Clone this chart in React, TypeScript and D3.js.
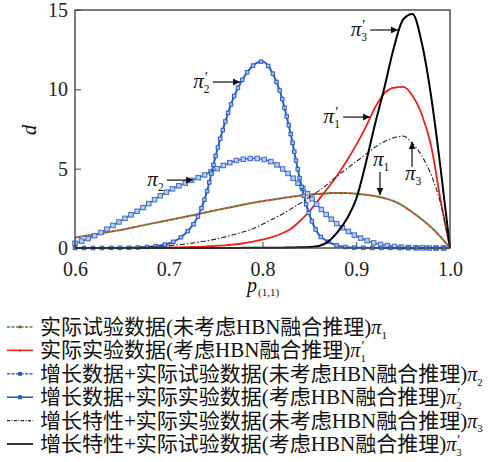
import { useEffect, useRef } from 'react';
import * as d3 from 'd3';

// p(1,1) grid shared by every series
const pValues = [
  0.6, 0.61, 0.62, 0.63, 0.64, 0.65, 0.66, 0.67, 0.68, 0.69,
  0.7, 0.71, 0.72, 0.73, 0.74, 0.75, 0.76, 0.77, 0.78, 0.79,
  0.8, 0.81, 0.82, 0.83, 0.84, 0.85, 0.86, 0.87, 0.88, 0.89,
  0.9, 0.91, 0.92, 0.93, 0.94, 0.95, 0.96, 0.97, 0.98, 0.99, 1.0,
];

// density values
const pi1 = [
  0.65, 0.75, 0.85, 0.95, 1.05, 1.15, 1.27, 1.4, 1.52, 1.64,
  1.76, 1.88, 2.0, 2.12, 2.25, 2.38, 2.5, 2.62, 2.74, 2.85,
  2.95, 3.04, 3.13, 3.22, 3.3, 3.36, 3.41, 3.45, 3.47, 3.46,
  3.42, 3.36, 3.27, 3.14, 2.95, 2.65, 2.25, 1.8, 1.3, 0.7, 0,
];
const pi1p = [
  0, 0, 0, 0, 0, 0.01, 0.01, 0.01, 0.02, 0.02,
  0.03, 0.04, 0.06, 0.07, 0.1, 0.13, 0.17, 0.22, 0.3, 0.4,
  0.52, 0.68, 0.9, 1.2, 1.7, 2.3, 3.05, 3.8, 4.6, 5.5,
  6.5, 7.6, 8.85, 9.75, 10.1, 10.15, 9.6, 8.4, 6.4, 3.0, 0,
];
const pi2 = [
  0.3, 0.5, 0.75, 1.05, 1.4, 1.75, 2.1, 2.45, 2.85, 3.25,
  3.6, 3.9, 4.15, 4.4, 4.65, 4.95, 5.25, 5.48, 5.6, 5.65,
  5.6, 5.42, 5.05, 4.55, 3.95, 3.3, 2.6, 2.0, 1.5, 1.1,
  0.75, 0.5, 0.3, 0.18, 0.1, 0.05, 0.02, 0.01, 0, 0, 0,
];
const pi2p = [
  0, 0, 0, 0, 0.01, 0.01, 0.02, 0.04, 0.08, 0.15,
  0.28, 0.55, 1.05, 1.85, 3.4, 5.8, 7.9, 9.6, 10.75, 11.5,
  11.75, 11.1, 9.6, 7.2, 4.3, 2.1, 0.85, 0.4, 0.15, 0.05,
  0.02, 0.01, 0, 0, 0, 0, 0, 0, 0, 0, 0,
];
const pi3 = [
  0, 0.005, 0.01, 0.015, 0.02, 0.03, 0.04, 0.05, 0.08, 0.11,
  0.15, 0.2, 0.27, 0.35, 0.45, 0.56, 0.7, 0.85, 1.02, 1.22,
  1.5, 1.8, 2.1, 2.45, 2.8, 3.2, 3.6, 4.05, 4.55, 5.0,
  5.45, 5.9, 6.35, 6.7, 6.95, 7.05, 6.6, 5.8, 4.6, 2.8, 0,
];
const pi3p = [
  0, 0, 0, 0, 0, 0, 0, 0, 0, 0,
  0, 0, 0, 0, 0, 0, 0, 0, 0.01, 0.01,
  0.01, 0.02, 0.02, 0.03, 0.04, 0.06, 0.12, 0.4, 1.0, 1.85,
  3.1, 5.3, 7.8, 10.1, 12.6, 14.4, 14.75, 12.9, 9.5, 5.0, 0,
];

const xTicks = [0.6, 0.7, 0.8, 0.9, 1.0];
const yTicks = [0, 5, 10, 15];

const legendLabels = [
  '实际试验数据(未考虑HBN融合推理)',
  '实际实验数据(考虑HBN融合推理)',
  '增长数据+实际试验数据(未考虑HBN融合推理)',
  '增长数据+实际实验数据(考虑HBN融合推理)',
  '增长特性+实际实验数据(未考虑HBN融合推理)',
  '增长特性+实际试验数据(考虑HBN融合推理)',
];
const piSubs = ['1', '1', '2', '2', '3', '3'];
const piPrimes = [false, true, false, true, false, true];

// arrow annotations, in data units (p, d)
const notes = [
  { sub: '2', prime: true, dir: 'right', from: [0.747, 10.46], to: [0.776, 10.46] },
  { sub: '2', prime: false, dir: 'right', from: [0.698, 4.28], to: [0.726, 4.28] },
  { sub: '3', prime: true, dir: 'right', from: [0.915, 13.74], to: [0.9445, 13.74] },
  { sub: '1', prime: true, dir: 'right', from: [0.886, 8.25], to: [0.9147, 8.25] },
  { sub: '1', prime: false, dir: 'down', from: [0.9253, 4.79], to: [0.9253, 3.34] },
  { sub: '3', prime: false, dir: 'up', from: [0.9595, 5.1], to: [0.9595, 6.68] },
];

const serif = "'Liberation Serif', serif";
const cjk = "'Noto Sans CJK SC', sans-serif";

const App = () => {
  const ref = useRef<SVGSVGElement>(null);

  useEffect(() => {
    const svg = d3.select(ref.current);
    svg.selectAll('*').remove();

    const x = d3.scaleLinear().domain([0.6, 1.0]).range([75, 450]);
    const y = d3.scaleLinear().domain([0, 15]).range([248, 10]);

    const line = (vals: number[]) =>
      d3
        .line<number>()
        .x((_, i) => x(pValues[i]))
        .y((d) => y(d))
        .curve(d3.curveMonotoneX)(vals);

    // π with prime over subscript
    const drawPi = (parent: any, px: number, py: number, sub: string, prime: boolean, size: number) => {
      const g = parent.append('g');
      const t = g
        .append('text')
        .attr('x', px)
        .attr('y', py)
        .attr('font-family', serif)
        .attr('font-style', 'italic')
        .attr('font-size', size)
        .attr('fill', '#111')
        .text('π');
      const w = (t.node() as SVGTextElement).getComputedTextLength();
      if (prime) {
        g.append('text')
          .attr('x', px + w + 1)
          .attr('y', py - size * 0.3)
          .attr('font-family', serif)
          .attr('font-size', size * 0.7)
          .attr('fill', '#111')
          .text('′');
      }
      g.append('text')
        .attr('x', px + w)
        .attr('y', py + size * 0.24)
        .attr('font-family', serif)
        .attr('font-size', size * 0.55)
        .attr('fill', '#111')
        .text(sub);
      return g;
    };

    svg
      .append('defs')
      .append('marker')
      .attr('id', 'arrowhead')
      .attr('viewBox', '0 0 10 10')
      .attr('refX', 10)
      .attr('refY', 5)
      .attr('markerWidth', 9)
      .attr('markerHeight', 7)
      .attr('markerUnits', 'userSpaceOnUse')
      .attr('orient', 'auto')
      .append('path')
      .attr('d', 'M0,0 L10,5 L0,10 z')
      .attr('fill', '#111');

    const plot = svg.append('g');

    // ticks point inward
    plot
      .append('g')
      .attr('transform', 'translate(0,248)')
      .call(
        d3
          .axisBottom(x)
          .tickValues(xTicks)
          .tickFormat(d3.format('.1f'))
          .tickSizeInner(-6)
          .tickSizeOuter(0)
          .tickPadding(14)
      )
      .call((g: any) => g.select('.domain').remove())
      .call((g: any) => g.selectAll('line').attr('stroke', '#444'))
      .call((g: any) =>
        g.selectAll('text').attr('font-family', serif).attr('font-size', 20).attr('fill', '#222')
      );

    plot
      .append('g')
      .attr('transform', 'translate(75,0)')
      .call(d3.axisLeft(y).tickValues(yTicks).tickSizeInner(-6).tickSizeOuter(0).tickPadding(7))
      .call((g: any) => g.select('.domain').remove())
      .call((g: any) => g.selectAll('line').attr('stroke', '#444'))
      .call((g: any) =>
        g.selectAll('text').attr('font-family', serif).attr('font-size', 20).attr('fill', '#222')
      );

    // π1: green dashes interleaved with red
    plot
      .append('path')
      .attr('d', line(pi1))
      .attr('fill', 'none')
      .attr('stroke', '#2f9a3c')
      .attr('stroke-width', 2)
      .attr('stroke-dasharray', '2.5,2.5');
    plot
      .append('path')
      .attr('d', line(pi1))
      .attr('fill', 'none')
      .attr('stroke', '#e02a20')
      .attr('stroke-width', 2)
      .attr('stroke-dasharray', '2.5,2.5')
      .attr('stroke-dashoffset', 2.5);

    // π1'
    plot
      .append('path')
      .attr('d', line(pi1p))
      .attr('fill', 'none')
      .attr('stroke', '#e8231f')
      .attr('stroke-width', 1.8);

    // blue series with square markers spaced along the curve
    const withSquares = (
      vals: number[],
      stroke: string,
      width: number,
      size: number,
      step: number,
      mStroke: string,
      mFill: string
    ) => {
      const p = plot
        .append('path')
        .attr('d', line(vals))
        .attr('fill', 'none')
        .attr('stroke', stroke)
        .attr('stroke-width', width);
      const node = p.node() as SVGPathElement;
      const len = node.getTotalLength();
      const pts = d3.range(0, len, step).map((s) => node.getPointAtLength(s));
      plot
        .append('g')
        .selectAll('rect')
        .data(pts)
        .join('rect')
        .attr('x', (d: any) => d.x - size / 2)
        .attr('y', (d: any) => d.y - size / 2)
        .attr('width', size)
        .attr('height', size)
        .attr('fill', mFill)
        .attr('stroke', mStroke)
        .attr('stroke-width', 1);
    };

    withSquares(pi2, '#2050b8', 1.2, 4.5, 7, '#3d6cc4', '#b7caec');
    withSquares(pi2p, '#2a5ec4', 2, 3.5, 9, '#2a5ec4', '#a9c0ea');

    // π3 dash-dot
    plot
      .append('path')
      .attr('d', line(pi3))
      .attr('fill', 'none')
      .attr('stroke', '#222')
      .attr('stroke-width', 1.1)
      .attr('stroke-dasharray', '5,2,1.5,2');

    // π3'
    plot
      .append('path')
      .attr('d', line(pi3p))
      .attr('fill', 'none')
      .attr('stroke', '#000')
      .attr('stroke-width', 2);

    // frame
    plot
      .append('rect')
      .attr('x', x(0.6))
      .attr('y', y(15))
      .attr('width', x(1.0) - x(0.6))
      .attr('height', y(0) - y(15))
      .attr('fill', 'none')
      .attr('stroke', '#444')
      .attr('stroke-width', 1.4);

    // annotations
    notes.forEach((n) => {
      const x1 = x(n.from[0]);
      const y1 = y(n.from[1]);
      const x2 = x(n.to[0]);
      const y2 = y(n.to[1]);
      plot
        .append('line')
        .attr('x1', x1)
        .attr('y1', y1)
        .attr('x2', x2)
        .attr('y2', y2)
        .attr('stroke', '#111')
        .attr('stroke-width', 1.2)
        .attr('marker-end', 'url(#arrowhead)');
      const g = drawPi(plot, 0, 0, n.sub, n.prime, 21);
      const bb = (g.node() as SVGGElement).getBBox();
      let tx = 0;
      let ty = 0;
      if (n.dir === 'right') {
        tx = x1 - 3 - (bb.x + bb.width);
        ty = y1 + 6;
      } else if (n.dir === 'down') {
        tx = x1 - 7;
        ty = y1 - 6;
      } else {
        tx = x1 - 7;
        ty = y1 + 13;
      }
      g.attr('transform', `translate(${tx},${ty})`);
    });

    // axis titles
    svg
      .append('text')
      .attr('transform', 'translate(36,130) rotate(-90)')
      .attr('text-anchor', 'middle')
      .attr('font-family', serif)
      .attr('font-style', 'italic')
      .attr('font-size', 21)
      .attr('fill', '#111')
      .text('d');
    svg
      .append('text')
      .attr('x', 247)
      .attr('y', 292)
      .attr('font-family', serif)
      .attr('font-style', 'italic')
      .attr('font-size', 20)
      .attr('fill', '#111')
      .text('p');
    svg
      .append('text')
      .attr('x', 258)
      .attr('y', 296)
      .attr('font-family', serif)
      .attr('font-size', 11)
      .attr('fill', '#111')
      .text('(1,1)');

    // legend
    const legend = svg.append('g');
    legendLabels.forEach((label, i) => {
      const cy = 327 + i * 23.4;
      const row = legend.append('g');
      const seg = row.append('line').attr('x1', 7).attr('x2', 33).attr('y1', cy).attr('y2', cy);
      if (i === 0) {
        seg.attr('stroke', '#2f9a3c').attr('stroke-width', 1.3).attr('stroke-dasharray', '3,1.5');
        row.append('circle').attr('cx', 20).attr('cy', cy).attr('r', 1.4).attr('fill', '#c0302a');
      } else if (i === 1) {
        seg.attr('stroke', '#e8231f').attr('stroke-width', 1.6);
        row.append('circle').attr('cx', 20).attr('cy', cy).attr('r', 1).attr('fill', '#a02020');
      } else if (i === 2) {
        seg.attr('stroke', '#2040a0').attr('stroke-width', 1.3).attr('stroke-dasharray', '3,1.5');
        row
          .append('rect')
          .attr('x', 18)
          .attr('y', cy - 2)
          .attr('width', 4)
          .attr('height', 4)
          .attr('fill', '#2a5ec4');
      } else if (i === 3) {
        seg.attr('stroke', '#2a5ec4').attr('stroke-width', 1.6);
        row
          .append('rect')
          .attr('x', 18)
          .attr('y', cy - 2)
          .attr('width', 4)
          .attr('height', 4)
          .attr('fill', '#2a5ec4');
      } else if (i === 4) {
        seg.attr('stroke', '#222').attr('stroke-width', 1.1).attr('stroke-dasharray', '3,1.5,1,1.5');
      } else {
        seg.attr('stroke', '#000').attr('stroke-width', 1.6);
      }
      const t = row
        .append('text')
        .attr('x', 40)
        .attr('y', cy + 7)
        .attr('font-size', 21)
        .attr('fill', '#111');
      // CJK runs in the CJK face, Latin runs in the serif face
      (label.match(/[\u4e00-\u9fff]+|[^\u4e00-\u9fff]+/g) || []).forEach((run) => {
        const isCjk = /[\u4e00-\u9fff]/.test(run);
        t.append('tspan')
          .attr('font-family', isCjk ? cjk : serif)
          .text(run);
      });
      const w = (t.node() as SVGTextElement).getComputedTextLength();
      drawPi(row, 40 + w, cy + 7, piSubs[i], piPrimes[i], 20);
    });
  }, []);

  return (
    <svg
      ref={ref}
      width={488}
      height={462}
      style={{ position: 'absolute', left: 0, top: 0, background: '#fff' }}
    />
  );
};

export default App;
